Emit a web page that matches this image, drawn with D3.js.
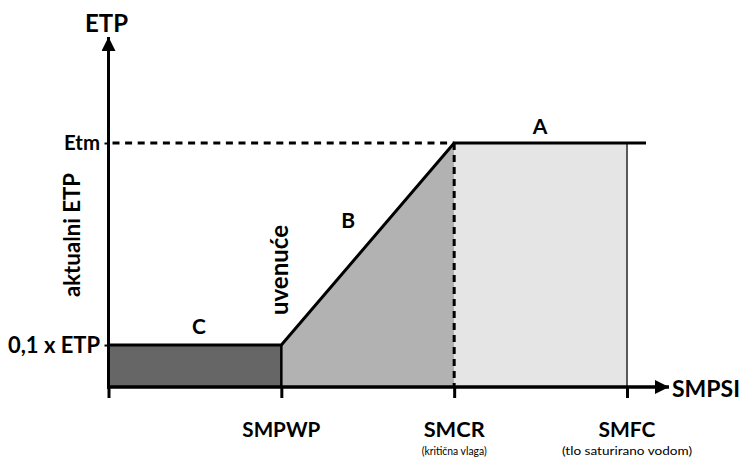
<!DOCTYPE html>
<html><head><meta charset="utf-8">
<script src="https://cdn.jsdelivr.net/npm/d3@7"></script>
<style>body{margin:0;background:#fff}svg{display:block}text{font-family:Lato,"Open Sans",sans-serif;font-weight:bold;fill:#000}</style>
</head><body>
<script>
// Data
const xTickPos = [0, 1, 2, 3];
const xTickLabels = ["", "SMPWP", "SMCR", "SMFC"];
const xTickSub = ["", "", "(kritična vlaga)", "(tlo saturirano vodom)"];
const yLevels = [0.172, 1];            // 0,1 x ETP and Etm (relative)
const yLabels = ["0,1 x ETP", "Etm"];
const curveX = [0, 1, 2, 3.11];        // actual ETP curve breakpoints
const curveY = [0.172, 0.172, 1, 1];
const zoneLabels = ["C", "B", "A"];
const zoneLabelX = [0.524, 1.386, 2.497];
const zoneLabelY = [0.25, 0.684, 1.066];

const W = 749, H = 460;
const svg = d3.select("body").append("svg").attr("width", W).attr("height", H);
const x = d3.scaleLinear().domain([0, 3]).range([108.5, 627]);
const y = d3.scaleLinear().domain([0, 1]).range([387, 143]);

// fit text width to target
function fit(sel, target, base) {
  const w = sel.node().getComputedTextLength();
  if (w > 0) sel.attr("font-size", (base * target / w).toFixed(2));
  return sel;
}

// Zone fills
svg.append("rect").attr("x", x(0)).attr("y", y(yLevels[0])).attr("width", x(1) - x(0)).attr("height", y(0) - y(yLevels[0])).attr("fill", "#666");
svg.append("path").attr("d", d3.line()([[x(1), y(0)], [x(1), y(curveY[1])], [x(2), y(curveY[2])], [x(2), y(0)]]) + "Z").attr("fill", "#b2b2b2");
svg.append("rect").attr("x", x(2)).attr("y", y(1)).attr("width", x(3) - x(2)).attr("height", y(0) - y(1)).attr("fill", "#e5e5e5");
svg.append("line").attr("x1", x(3)).attr("x2", x(3)).attr("y1", y(1)).attr("y2", y(0)).attr("stroke", "#595959").attr("stroke-width", 2);
svg.append("line").attr("x1", x(1)).attr("x2", x(1)).attr("y1", y(yLevels[0])).attr("y2", y(0)).attr("stroke", "#000").attr("stroke-width", 2.5);

// Dashed guides
svg.append("line").attr("x1", x(0) + 4).attr("x2", x(2)).attr("y1", y(1)).attr("y2", y(1)).attr("stroke", "#000").attr("stroke-width", 3).attr("stroke-dasharray", "7,5.6");
svg.append("line").attr("x1", x(2)).attr("x2", x(2)).attr("y1", y(1)).attr("y2", y(0)).attr("stroke", "#000").attr("stroke-width", 3).attr("stroke-dasharray", "7,5");

// Curve
svg.append("path").attr("d", d3.line().x(d => x(d[0])).y(d => y(d[1]))(curveX.map((v, i) => [v, curveY[i]])))
  .attr("fill", "none").attr("stroke", "#000").attr("stroke-width", 3);

// Axes with arrowheads
const defs = svg.append("defs");
defs.append("marker").attr("id", "arr").attr("viewBox", "0 0 10 10").attr("refX", 10).attr("refY", 5)
  .attr("markerWidth", 16).attr("markerHeight", 14).attr("markerUnits", "userSpaceOnUse").attr("orient", "auto")
  .append("path").attr("d", "M0,0L10,5L0,10Z").attr("fill", "#000");
svg.append("line").attr("x1", x(0)).attr("x2", x(0)).attr("y1", y(0) + 1.75).attr("y2", 37).attr("stroke", "#000").attr("stroke-width", 3).attr("marker-end", "url(#arr)");
svg.append("line").attr("x1", x(0) - 1.5).attr("x2", 669).attr("y1", y(0)).attr("y2", y(0)).attr("stroke", "#000").attr("stroke-width", 3.5).attr("marker-end", "url(#arr)");

// x ticks
const xAxis = d3.axisBottom(x).tickValues(xTickPos).tickSize(11).tickFormat("");
const gx = svg.append("g").attr("transform", `translate(0,${y(0)})`).call(xAxis);
gx.select(".domain").remove();
gx.selectAll(".tick line").attr("stroke", "#000").attr("stroke-width", 3);
const mainW = [0, 78, 61, 57];
const subW = [0, 0, 65, 130];
xTickPos.forEach((p, i) => {
  if (xTickLabels[i]) fit(svg.append("text").attr("x", x(p)).attr("y", 437).attr("text-anchor", "middle").attr("font-size", 20).text(xTickLabels[i]), mainW[i], 20);
  if (xTickSub[i]) svg.append("text").attr("x", x(p)).attr("y", 455).attr("text-anchor", "middle").attr("font-size", 11.5)
      .attr("textLength", subW[i]).attr("lengthAdjust", "spacingAndGlyphs").style("font-weight", "normal").text(xTickSub[i]);
});

// y labels
const gy = svg.append("g").attr("transform", `translate(${x(0)},0)`).call(d3.axisLeft(y).tickValues(yLevels).tickSize(4).tickFormat(""));
gy.select(".domain").remove();
gy.selectAll(".tick line").attr("stroke", "#000").attr("stroke-width", 2);
const yLabW = [92, 36];
yLevels.forEach((v, i) => {
  fit(svg.append("text").attr("x", 100).attr("y", y(v)).attr("dy", "0.35em").attr("text-anchor", "end").attr("font-size", 20).text(yLabels[i]), yLabW[i], 20);
});

// Titles
fit(svg.append("text").attr("x", 106.5).attr("y", 32).attr("text-anchor", "middle").attr("font-size", 21).text("ETP"), 43, 21);
fit(svg.append("text").attr("x", 672).attr("y", 397).attr("font-size", 21).text("SMPSI"), 68, 21);
fit(svg.append("text").attr("transform", "translate(80,235) rotate(-90)").attr("text-anchor", "middle").attr("font-size", 20).text("aktualni ETP"), 124, 20);
fit(svg.append("text").attr("transform", `translate(288,270) rotate(-90)`).attr("text-anchor", "middle").attr("font-size", 20).text("uvenuće"), 90, 20);

// zone letters
zoneLabels.forEach((t, i) => {
  svg.append("text").attr("x", x(zoneLabelX[i])).attr("y", y(zoneLabelY[i])).attr("dy", "0.36em").attr("text-anchor", "middle").attr("font-size", 21).text(t);
});
</script>
</body></html>
